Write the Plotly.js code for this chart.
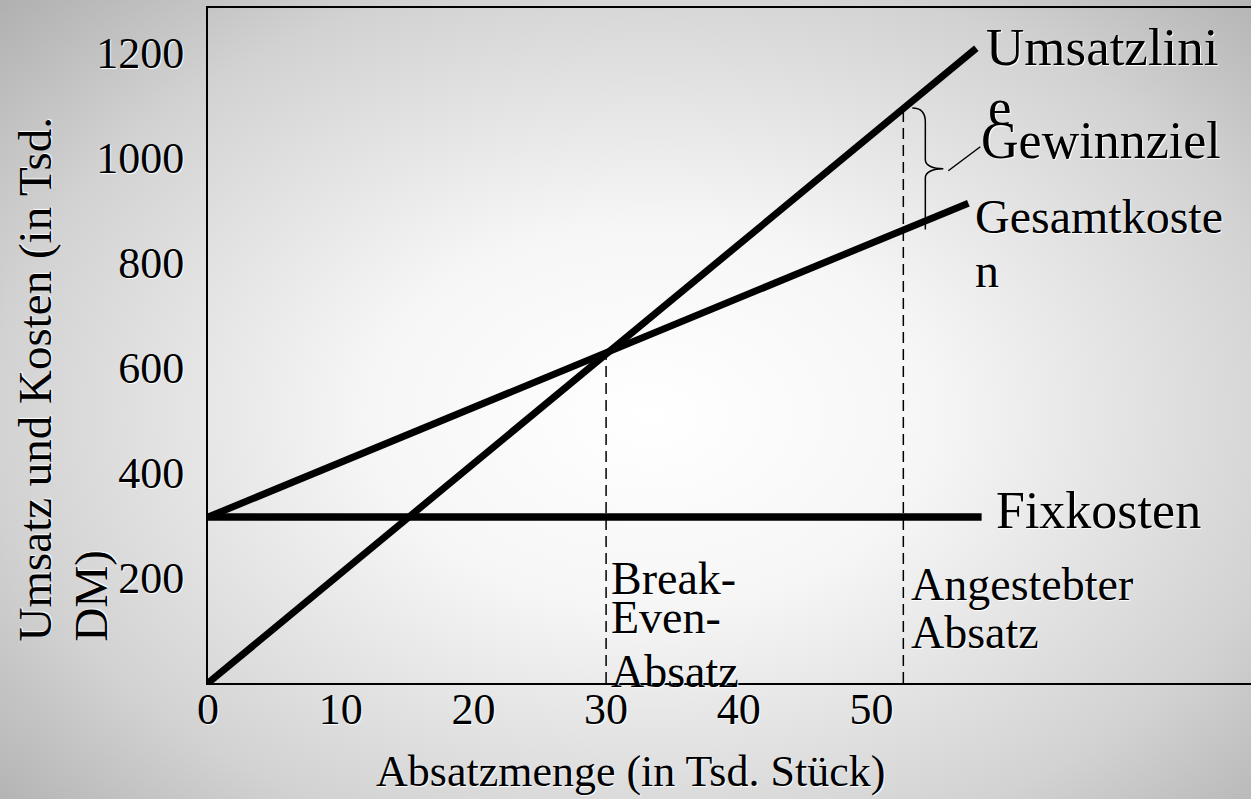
<!DOCTYPE html>
<html>
<head>
<meta charset="utf-8">
<script src="https://cdn.plot.ly/plotly-3.0.1.min.js"></script>
<style>
  html, body { margin:0; padding:0; }
  body {
    width:1251px; height:799px; overflow:hidden;
    background: radial-gradient(ellipse 75% 80% at 52% 52%, #ffffff 0%, #f6f6f6 30%, #d2d2d2 70%, #a9a9a9 100%);
  }
  #chart { width:1251px; height:799px; }
</style>
</head>
<body>
<div id="chart"></div>
<script>
// ---- data ----
const umsatzX = [0, 57.9];
const umsatzY = [0, 1209];
const gesamtX = [0, 57.3];
const gesamtY = [316, 914];
const fixX = [0, 58.3];
const fixY = [316, 316];
const breakEvenX = [30, 30];
const breakEvenY = [0, 627];
const targetX = [52.4, 52.4];
const targetY = [0, 1095];
const targetCostY = 864;
const xTickVals = [0, 10, 20, 30, 40, 50];
const xTickText = ['0', '10', '20', '30', '40', '50'];
const yTickVals = [200, 400, 600, 800, 1000, 1200];
const yTickText = ['200', '400', '600', '800', '1000', '1200'];

// ---- layout geometry ----
const W = 1251, H = 799;
const M = {l: 208, r: 0, t: 8, b: 116};
const xRange = [0, 78.6];
const yRange = [0, 1285.7];
const plotW = W - M.l - M.r, plotH = H - M.t - M.b;
const px2y = py => (M.t + plotH - py) / plotH * (yRange[1] - yRange[0]) + yRange[0];
const px2px = px => (px - M.l) / plotW;          // paper x
const py2py = py => (M.t + plotH - py) / plotH;  // paper y

const FONT = 'Liberation Serif, Times New Roman, serif';
const SH = '1px 1px 1px #ffffff';
const f = s => ({family: FONT, size: s, color: '#000', shadow: SH});

const thick = w => ({color: '#000', width: w});
const traces = [
  {x: umsatzX, y: umsatzY, mode: 'lines', line: thick(7), hoverinfo: 'skip'},
  {x: gesamtX, y: gesamtY, mode: 'lines', line: thick(7), hoverinfo: 'skip'},
  {x: fixX, y: fixY, mode: 'lines', line: thick(7.5), hoverinfo: 'skip'},
  {x: breakEvenX, y: breakEvenY, mode: 'lines', line: {color: '#000', width: 1.5, dash: '11px,6px'}, hoverinfo: 'skip'},
  {x: targetX, y: targetY, mode: 'lines', line: {color: '#000', width: 1.5, dash: '11px,6px'}, hoverinfo: 'skip'}
];

function ann(text, pxX, pxY, size, xanchor) {
  return {text: text, x: px2px(pxX), y: py2py(pxY), xref: 'paper', yref: 'paper',
          xanchor: xanchor || 'left', yanchor: 'middle', showarrow: false,
          font: f(size), borderpad: 0};
}

const annotations = [
  ann('Umsatzlini', 985, 47, 53),
  ann('e', 987, 107, 53),
  ann('Gewinnziel', 980, 141, 52),
  ann('Gesamtkoste', 974, 216, 48),
  ann('n', 974, 270, 48),
  ann('Fixkosten', 995, 510, 52),
  ann('Break-', 610, 578, 46),
  ann('Even-', 610, 617, 46),
  ann('Absatz', 610, 671, 46),
  ann('Angestebter', 910, 584, 46),
  ann('Absatz', 910, 632, 46),
  // axis titles
  {text: 'Absatzmenge (in Tsd. Stück)', x: px2px(630), y: py2py(771), xref: 'paper', yref: 'paper',
   xanchor: 'center', yanchor: 'middle', showarrow: false, font: f(44)},
  {text: 'Umsatz und Kosten (in Tsd.', x: px2px(34), y: py2py(644), xref: 'paper', yref: 'paper',
   xanchor: 'center', yanchor: 'bottom', textangle: -90, showarrow: false, font: f(47)},
  {text: 'DM)', x: px2px(90), y: py2py(644), xref: 'paper', yref: 'paper',
   xanchor: 'center', yanchor: 'bottom', textangle: -90, showarrow: false, font: f(47)}
];

// brace between revenue and total cost at the target quantity
const R = targetY[1], C = targetCostY, Mid = (R + C) / 2;
const d = px2y(0) - px2y(1); // data units per pixel (y)
const bracePath = 'M 9 ' + R +
  ' C 18 ' + R + ' 22 ' + (R - 5 * d) + ' 22 ' + (R - 14 * d) +
  ' L 22 ' + (Mid + 9 * d) +
  ' C 22 ' + (Mid + 3 * d) + ' 30 ' + Mid + ' 40 ' + Mid +
  ' C 30 ' + Mid + ' 22 ' + (Mid - 3 * d) + ' 22 ' + (Mid - 9 * d) +
  ' L 22 ' + C;
const shapes = [
  {type: 'path', xref: 'x', yref: 'y', xsizemode: 'pixel', xanchor: targetX[0],
   path: bracePath, line: {color: '#000', width: 1.5}},
  {type: 'line', xref: 'x', yref: 'y', xsizemode: 'pixel', xanchor: targetX[0],
   x0: 45, x1: 77, y0: Mid - 2 * d, y1: Mid + 22 * d, line: {color: '#000', width: 1.5}}
];

const layout = {
  width: W, height: H,
  margin: {l: M.l, r: M.r, t: M.t, b: M.b, pad: 0},
  paper_bgcolor: 'rgba(0,0,0,0)', plot_bgcolor: 'rgba(0,0,0,0)',
  showlegend: false,
  xaxis: {range: xRange, showgrid: false, zeroline: false, showline: true, linecolor: '#000',
          linewidth: 2, mirror: true, tickmode: 'array', tickvals: xTickVals, ticktext: xTickText,
          ticks: '', ticklen: 0, ticklabelstandoff: -14, tickfont: f(44), fixedrange: true},
  yaxis: {range: yRange, showgrid: false, zeroline: false, showline: true, linecolor: '#000',
          linewidth: 2, mirror: false, tickmode: 'array', tickvals: yTickVals, ticktext: yTickText,
          ticks: 'outside', ticklen: 13, tickcolor: 'rgba(0,0,0,0)', tickfont: f(44), fixedrange: true},
  annotations: annotations,
  shapes: shapes
};

Plotly.newPlot('chart', traces, layout, {displayModeBar: false, staticPlot: true});
</script>
</body>
</html>
